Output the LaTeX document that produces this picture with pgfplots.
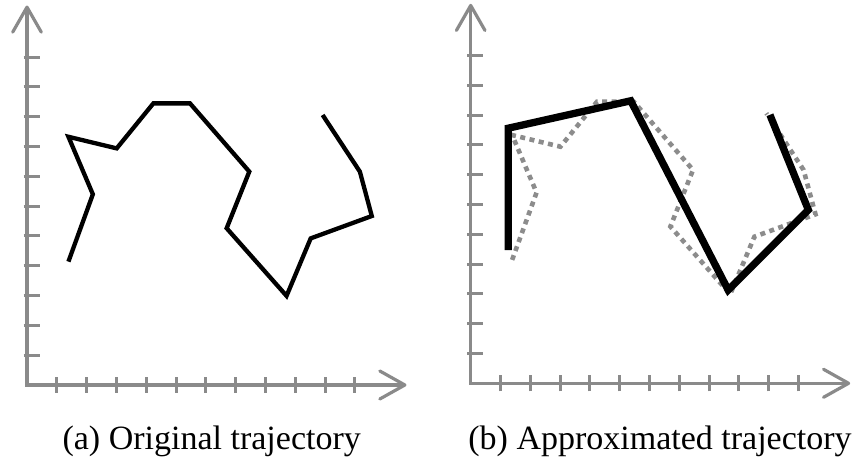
\documentclass[border=0pt]{standalone}
\usepackage{pgfplots}
\usepackage{pgfplotstable}
\pgfplotsset{compat=1.18}
\usepackage{fontspec}
\setmainfont{Liberation Serif}

\definecolor{axisgray}{HTML}{8A8A8A}
\definecolor{dotgray}{HTML}{8C8C8C}

% original trajectory (raw samples)
\pgfplotstableread{
x y
1.39 4.14
2.21 6.40
1.39 8.33
3.01 7.94
4.24 9.45
5.47 9.45
7.46 7.16
6.70 5.26
8.71 2.99
9.52 4.92
11.57 5.67
11.17 7.16
9.92 9.06
}\originaltraj

% simplified trajectory
\pgfplotstableread{
x y
1.26 4.47
1.26 8.56
5.37 9.48
8.64 3.13
11.33 5.82
10.04 9.01
}\simpletraj

\pgfplotsset{
  trajaxis/.style={
    x=29.8pt, y=29.8pt,
    xmin=0, xmax=12.8, ymin=0, ymax=12.8,
    clip=false,
    axis lines=left,
    axis line style={draw=none,-},
    xtick={1,...,11}, ytick={1,...,11},
    xticklabels={}, yticklabels={},
    xtick align=center, ytick align=inside,
    major tick length=16pt,
    tick style={draw=axisgray, line width=3pt},
    ytick style={xshift=-3.3pt},
    anchor=origin,
  },
}

\newcommand\arrowaxes{%
  \draw[axisgray, line width=3.2pt] (axis cs:0,12.66) -- (axis cs:0,0) -- (axis cs:12.66,0);
  \draw[axisgray, line width=3.2pt, line join=round, line cap=round]
    (axis cs:-0.48,11.84) -- (axis cs:0,12.68) -- (axis cs:0.48,11.84);
  \draw[axisgray, line width=3.2pt, line join=round, line cap=round]
    (axis cs:11.84,0.47) -- (axis cs:12.68,0) -- (axis cs:11.84,-0.47);
}

\begin{document}
\begin{tikzpicture}
\useasboundingbox (0,0) rectangle (858pt,462pt);

% (a) original
\begin{axis}[trajaxis, at={(27pt,77pt)}]
  \arrowaxes
  \addplot[black, line width=4.3pt, no marks] table {\originaltraj};
\end{axis}

% (b) approximated
\begin{axis}[trajaxis, at={(470.7pt,78.7pt)}]
  \arrowaxes
  \addplot[dotgray, line width=4.6pt, dash pattern=on 5pt off 4.5pt, no marks] table {\originaltraj};
  \addplot[black, line width=7.3pt, no marks] table {\simpletraj};
\end{axis}

\node[anchor=base, font=\fontsize{34}{40}\selectfont] at (211.7pt,12pt) {(a) Original trajectory};
\node[anchor=base, font=\fontsize{34}{40}\selectfont] at (660pt,12pt) {(b) Approximated trajectory};
\end{tikzpicture}
\end{document}
